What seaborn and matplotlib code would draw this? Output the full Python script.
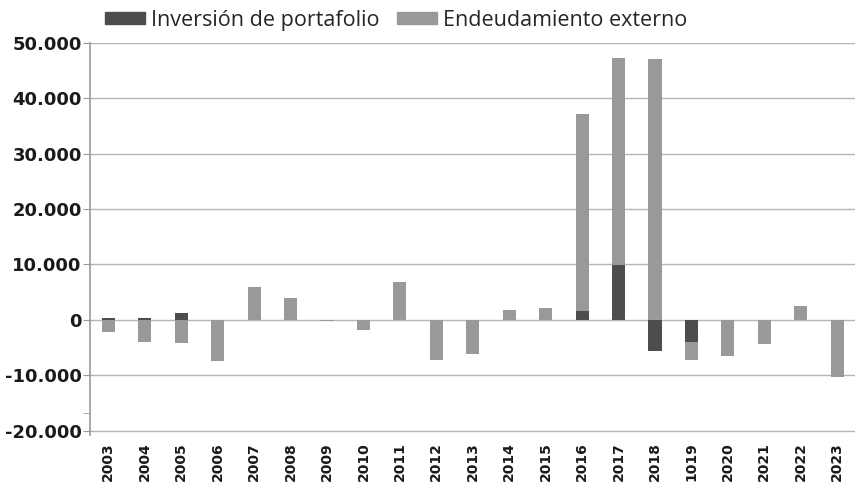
import matplotlib
matplotlib.use("Agg")
import matplotlib.pyplot as plt
import matplotlib.patches as mpatches
import seaborn as sns
import pandas as pd
import numpy as np

# years as printed on the chart (the "1019" typo is in the original)
years = ["2003", "2004", "2005", "2006", "2007", "2008", "2009", "2010", "2011", "2012",
         "2013", "2014", "2015", "2016", "2017", "2018", "1019", "2020", "2021", "2022", "2023"]
inversion = [300, 300, 1300, 0, 0, 0, 0, 0, 0, 0,
             0, 0, 0, 1600, 9900, -5700, -4100, 0, 0, 0, 0]
endeudamiento = [-2300, -4000, -4200, -7400, 5900, 4000, -300, -1800, 6900, -7200,
                 -6200, 1700, 2100, 35600, 37400, 47000, -3100, -6500, -4300, 2500, -10300]

dark = "#4d4d4d"
light = "#999999"

df = pd.DataFrame({"year": years, "inv": inversion, "end": endeudamiento})
# diverging stack: portfolio first, external debt stacked on top when same sign
df["end_top"] = np.where(np.sign(df["inv"]) == np.sign(df["end"]),
                         df["inv"] + df["end"], df["end"])

sns.set_style("white")
plt.rcParams["font.family"] = ["DejaVu Sans"]

fig, ax = plt.subplots(figsize=(8.58, 4.86), dpi=100)
# -20.000 sits at y~431 px, the spine runs a little further down
fig.subplots_adjust(left=0.105, right=0.997, top=0.912, bottom=0.105)

sns.barplot(data=df, x="year", y="end_top", color=light, saturation=1, width=0.36,
            linewidth=0, edgecolor="none", ax=ax, zorder=3)
sns.barplot(data=df, x="year", y="inv", color=dark, saturation=1, width=0.36,
            linewidth=0, edgecolor="none", ax=ax, zorder=4)

ax.set_ylim(-20800, 50000)
ax.set_xlim(-0.5, len(years) - 0.5)
ticks = list(range(-20000, 50001, 10000))
ax.set_yticks(ticks)
ax.set_yticklabels([f"{v:,}".replace(",", ".") for v in ticks],
                   fontsize=13, fontweight="bold", color="#1a1a1a")
ax.set_yticks([-16800], minor=True)
ax.set_xticks(range(len(years)))
ax.set_xticklabels(years, rotation=90, fontsize=10, fontweight="bold", color="#1a1a1a")
ax.set_xlabel("")
ax.set_ylabel("")

ax.yaxis.grid(True, which="major", color="#b5b5b5", linewidth=1, zorder=0)
ax.set_axisbelow(True)
for s in ["top", "right", "bottom"]:
    ax.spines[s].set_visible(False)
ax.spines["left"].set_color("#9a9a9a")
ax.spines["left"].set_linewidth(1.2)
ax.tick_params(axis="y", which="both", left=True, length=5, color="#9a9a9a", direction="out", pad=1)
ax.tick_params(axis="x", bottom=False, pad=2)

handles = [mpatches.Patch(color=dark, label="Inversión de portafolio"),
           mpatches.Patch(color=light, label="Endeudamiento externo")]
fig.legend(handles=handles, loc="upper left", bbox_to_anchor=(0.1, 1.02), ncol=2,
           frameon=False, handlelength=1.85, handleheight=0.5,
           columnspacing=0.8, handletextpad=0.3,
           prop={"family": "Open Sans", "size": 15.5})

fig.savefig("out.png", dpi=100)
